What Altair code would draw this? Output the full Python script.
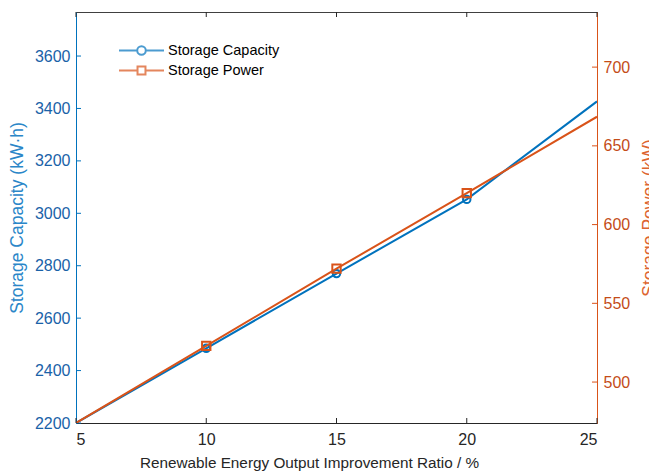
import altair as alt
import pandas as pd

# ---- data ----
ratio = [5, 10, 15, 20, 25]
capacity = [2200, 2485, 2770, 3053, 3427]
power = [474, 523, 572, 620, 668.5]
marker_ratios = [10, 15, 20]
series_names = ["Storage Capacity", "Storage Power"]

x_ticks = [5, 10, 15, 20, 25]
left_ticks = [2200, 2400, 2600, 2800, 3000, 3200, 3400, 3600]
right_ticks = [500, 550, 600, 650, 700]

BLUE = "#0072BD"
ORANGE = "#D95319"
DARK = "#262626"
FONT = "Liberation Sans"

W, H = 521, 411

cap_df = pd.DataFrame({"ratio": ratio, "value": capacity})
pow_df = pd.DataFrame({"ratio": ratio, "value": power})
cap_mk = cap_df[cap_df["ratio"].isin(marker_ratios)]
pow_mk = pow_df[pow_df["ratio"].isin(marker_ratios)]

xscale = alt.Scale(domain=[5, 25], nice=False, zero=False)
xenc = alt.X("ratio:Q", scale=xscale,
             axis=alt.Axis(values=x_ticks, title="Renewable Energy Output Improvement Ratio / %",
                           ticks=False, grid=False, domainColor=DARK, labelColor=DARK,
                           titleColor=DARK, labelPadding=8, titlePadding=8,
                           titleFontSize=15.3, titleX=233, titleAlign="center"))

lscale = alt.Scale(domain=[2200, 3768], nice=False, zero=False)
rscale = alt.Scale(domain=[474, 735], nice=False, zero=False)

laxis = alt.Axis(values=left_ticks, format="d", title="Storage Capacity (kW·h)", ticks=False,
                 grid=False, domainColor=BLUE, labelColor="#1a62a8", titleColor="#2a86c8",
                 titleAngle=270, labelPadding=6, titlePadding=8, titleFontSize=17.5)
raxis = alt.Axis(values=right_ticks, format="d", title="Storage Power (kW)", ticks=False,
                 grid=False, domainColor=ORANGE, labelColor="#c44c18", titleColor="#dd6530",
                 titleAngle=270, labelPadding=6, titlePadding=29, orient="right",
                 titleFontSize=17.5)

cap_line = alt.Chart(cap_df).mark_line(color=BLUE, strokeWidth=2, clip=True).encode(
    x=xenc, y=alt.Y("value:Q", scale=lscale, axis=laxis))
cap_pts = alt.Chart(cap_mk).mark_point(shape="circle", filled=False, color=BLUE, strokeWidth=2,
                                       size=55, opacity=1).encode(
    x=alt.X("ratio:Q", scale=xscale), y=alt.Y("value:Q", scale=lscale))
lt_df = pd.DataFrame({"value": left_ticks})
cap_ticks = alt.Chart(lt_df).mark_rule(color=BLUE, strokeWidth=1).encode(
    y=alt.Y("value:Q", scale=lscale), x=alt.value(0), x2=alt.value(5))

pow_line = alt.Chart(pow_df).mark_line(color=ORANGE, strokeWidth=2, clip=True).encode(
    x=alt.X("ratio:Q", scale=xscale), y=alt.Y("value:Q", scale=rscale, axis=raxis))
pow_pts = alt.Chart(pow_mk).mark_point(shape="square", filled=False, color=ORANGE, strokeWidth=2,
                                       size=70, opacity=1).encode(
    x=alt.X("ratio:Q", scale=xscale), y=alt.Y("value:Q", scale=rscale))
rt_df = pd.DataFrame({"value": right_ticks})
pow_ticks = alt.Chart(rt_df).mark_rule(color=ORANGE, strokeWidth=1).encode(
    y=alt.Y("value:Q", scale=rscale), x=alt.value(W), x2=alt.value(W - 5))

xt_df = pd.DataFrame({"ratio": x_ticks})
x_ticks_bottom = alt.Chart(xt_df).mark_rule(color=DARK, strokeWidth=1).encode(
    x=alt.X("ratio:Q", scale=xscale), y=alt.value(H), y2=alt.value(H - 5))
x_ticks_top = alt.Chart(xt_df).mark_rule(color=DARK, strokeWidth=1).encode(
    x=alt.X("ratio:Q", scale=xscale), y=alt.value(0), y2=alt.value(5))

circ = "M-3,0H-0.57M0.57,0H3M-0.57,0A0.57,0.57,0,1,0,0.57,0A0.57,0.57,0,1,0,-0.57,0"
sq = "M-3,0H-0.53M0.53,0H3M-0.53,-0.53H0.53V0.53H-0.53Z"
leg_df = pd.DataFrame({"series": series_names})
legend_layer = alt.Chart(leg_df).mark_point(filled=False, strokeWidth=2, clip=True).encode(
    x=alt.value(-500), y=alt.value(-500),
    color=alt.Color("series:N", scale=alt.Scale(domain=series_names, range=[BLUE, ORANGE]),
                    legend=alt.Legend(title=None, orient="none", legendX=57, legendY=30,
                                      padding=0, rowPadding=3, labelOffset=18,
                                      symbolSize=225, symbolStrokeWidth=2,
                                      labelFont=FONT, labelFontSize=14.5, labelColor="#000000")),
    shape=alt.Shape("series:N", scale=alt.Scale(domain=series_names, range=[circ, sq]), legend=None),
)

left = alt.layer(cap_line, cap_pts, cap_ticks)
right = alt.layer(pow_line, pow_pts, pow_ticks)

chart = alt.layer(left, right, x_ticks_bottom, x_ticks_top, legend_layer).resolve_scale(
    y="independent"
).properties(
    width=W, height=H,
    background="white",
    autosize=alt.AutoSizeParams(type="none"),
    padding={"left": 76, "top": 12, "right": 52, "bottom": 51},
).configure_view(
    stroke="#404040", strokeWidth=1
).configure_axis(
    labelFont=FONT, titleFont=FONT, labelFontSize=16, titleFontSize=16,
    titleFontWeight="normal", domainWidth=1
)

chart.save("out.html", embed_options={"renderer": "svg", "actions": False})
